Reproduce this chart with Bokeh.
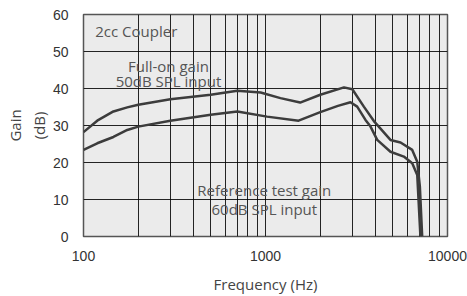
from bokeh.plotting import figure
from bokeh.models import FixedTicker, Range1d, Label
from bokeh.embed import file_html
from bokeh.resources import INLINE

# --- data ---
full_freq = [100, 119, 146, 174, 200, 300, 500, 700, 940, 1208, 1550, 2000, 2700, 3000, 3470, 3940, 4860, 5520, 6400, 6820, 7050, 7260]
full_gain = [28.2, 31.3, 33.8, 34.9, 35.6, 37.1, 38.3, 39.4, 38.9, 37.4, 36.2, 38.3, 40.3, 39.8, 35.1, 31.2, 26.1, 25.4, 23.4, 20.2, 13.5, 0.0]

ref_freq = [100, 119, 146, 174, 200, 300, 500, 700, 1020, 1520, 2000, 2500, 2930, 3190, 3543, 3776, 4110, 4860, 5755, 6400, 6820, 7100]
ref_gain = [23.4, 25.2, 26.9, 28.8, 29.7, 31.3, 32.9, 33.8, 32.4, 31.3, 33.6, 35.3, 36.3, 35.1, 31.5, 29.7, 26.1, 22.9, 21.6, 19.8, 16.6, 0.0]

x_major = [100, 1000, 10000]
x_major_labels = ["100", "1000", "10000"]
x_minor = [200, 300, 400, 500, 600, 700, 800, 900, 2000, 3000, 4000, 5000, 6000, 7000, 8000, 9000]
y_ticks = [0, 10, 20, 30, 40, 50, 60]

annotations = [
    ("2cc Coupler", 116, 55.5, "left"),
    ("Full-on gain", 293, 46.1, "center"),
    ("50dB SPL input", 293, 42.0, "center"),
    ("Reference test gain", 985, 12.5, "center"),
    ("60dB SPL input", 985, 7.3, "center"),
]

TEXT_FONT = "Open Sans"
TICK_FONT = "Liberation Sans"

p = figure(width=467, height=296, x_axis_type="log",
           x_range=Range1d(100, 10000), y_range=Range1d(0, 60),
           output_backend="svg", toolbar_location=None,
           min_border_left=83, min_border_right=20, min_border_top=14, min_border_bottom=59)

p.background_fill_color = "#ebebeb"
p.border_fill_color = "white"
p.outline_line_color = "#555555"
p.outline_line_width = 1.5

ticker = FixedTicker(ticks=x_major, minor_ticks=x_minor)
p.xaxis.ticker = ticker
p.xgrid.ticker = ticker
p.xaxis.major_label_overrides = {t: l for t, l in zip(x_major, x_major_labels)}
p.yaxis.ticker = FixedTicker(ticks=y_ticks)

for g in (p.xgrid, p.ygrid):
    g.grid_line_color = "black"
    g.grid_line_alpha = 0.85
    g.grid_line_width = 1
p.xgrid.minor_grid_line_color = "black"
p.xgrid.minor_grid_line_alpha = 0.85
p.xgrid.minor_grid_line_width = 1

for ax in (p.xaxis, p.yaxis):
    ax.axis_line_color = None
    ax.major_tick_line_color = None
    ax.minor_tick_line_color = None
    ax.major_label_text_font = TICK_FONT
    ax.major_label_text_font_size = "14px"
    ax.major_label_text_color = "#333333"
    ax.axis_label_text_font = TEXT_FONT
    ax.axis_label_text_font_style = "normal"
    ax.axis_label_text_color = "#444444"
    ax.axis_label_text_font_size = "15px"

p.xaxis.major_label_standoff = 8
p.xaxis.axis_label = "Frequency (Hz)"
p.xaxis.axis_label_standoff = 10

p.yaxis.major_label_standoff = 9
p.yaxis.axis_label = "Gain\n(dB)"
p.yaxis.axis_label_standoff = 1

p.line(full_freq, full_gain, line_color="#3c3c3c", line_width=2.5, line_join="round")
p.line(ref_freq, ref_gain, line_color="#3c3c3c", line_width=2.5, line_join="round")

for txt, fx, gy, align in annotations:
    p.add_layout(Label(x=fx, y=gy, text=txt, text_align=align, text_baseline="middle",
                       text_font=TEXT_FONT, text_font_size="15px", text_color="#555555"))

open("out.html", "w").write(file_html(p, INLINE))
